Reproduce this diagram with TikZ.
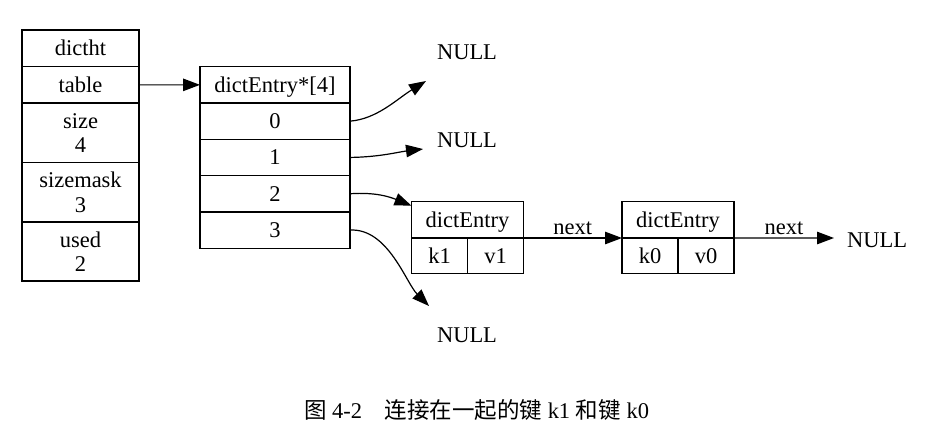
\documentclass[tikz,border=0pt]{standalone}
\usepackage{fontspec}
\setmainfont{Liberation Serif}
\newfontfamily\cjk{Noto Sans CJK SC}
\usepackage{tikz}
\usetikzlibrary{
  arrows.meta,
  positioning
}
\tikzset{
  lcell/.style={
    rectangle, draw=black, line width=1.2pt,
    inner sep=0pt, outer sep=0pt,
    minimum width=117pt, minimum height=36.3pt,
    text height=17pt, text depth=2pt
  },
  lcell2/.style={
    lcell, text height=, text depth=,
    minimum height=59.5pt, align=center
  },
  acell/.style={
    lcell, minimum width=150pt
  },
  ecell/.style={
    lcell, minimum width=112pt
  },
  hcell/.style={
    lcell, minimum width=56pt, minimum height=35.6pt
  },
  null/.style={
    inner sep=0pt
  },
  lbl/.style={
    inner sep=3pt
  },
  arr/.style={-{Triangle[length=17pt, width=12.5pt]}, line width=1.2pt, color=#1},
  arr/.default=black
}
\begin{document}
\begin{tikzpicture}[x=1pt, y=-1pt, font=\fontsize{22.5}{24.4}\selectfont]
    \useasboundingbox (0,0) rectangle (937,426);

    %% dictht
    \node[lcell, anchor=north west, minimum height=36.7pt] (ht) at (22,30) {dictht};
    \node[lcell, below=0pt of ht] (tbl) {table};
    \node[lcell2, below=0pt of tbl] (sz) {size\\4};
    \node[lcell2, below=0pt of sz] (msk) {sizemask\\3};
    \node[lcell2, below=0pt of msk, minimum height=59pt] (usd) {used\\2};

    %% dictEntry*[4]
    \node[acell, anchor=north west] (hdr) at (200,66.7) {dictEntry*[4]};
    \node[acell, below=0pt of hdr] (b0) {0};
    \node[acell, below=0pt of b0] (b1) {1};
    \node[acell, below=0pt of b1] (b2) {2};
    \node[acell, below=0pt of b2] (b3) {3};

    %% dictEntry k1 / k0
    \node[ecell, anchor=north west] (e1) at (411.5,201.7) {dictEntry};
    \node[hcell, anchor=north west] (k1) at (e1.south west) {k1};
    \node[hcell, right=0pt of k1] (v1) {v1};
    \node[ecell, anchor=north west] (e0) at (622,201.7) {dictEntry};
    \node[hcell, anchor=north west] (k0) at (e0.south west) {k0};
    \node[hcell, right=0pt of k0] (v0) {v0};

    %% NULL
    \node[null] (n0) at (467,52) {NULL};
    \node[null] (n1) at (467,140) {NULL};
    \node[null] (n3) at (467,335) {NULL};
    \node[null] (n4) at (877,240) {NULL};
    \coordinate (t0) at (426,81);
    \coordinate (t1) at (423,149);
    \coordinate (t3) at (429,306);
    \coordinate (t4) at (834,238);

    %% Pointers
    \draw[arr] (tbl.east) -- (hdr.west);
    \draw[arr] (b0.east) .. controls (377,119) and (397,99) .. (t0);
    \draw[arr] (b1.east) .. controls (380,157) and (398,152) .. (t1);
    \draw[arr] (b2.east) .. controls (376,192) and (390,197)
      .. ([yshift=-4pt]e1.north west);
    \draw[arr] (b3.east) .. controls (388,228) and (406,283) .. (t3);
    \draw[arr] (e1.south east) -- node[lbl, above] {next} (e0.south west);
    \draw[arr] (e0.south east) -- node[lbl, above] {next} (t4);

    %% Caption
    \node[font=\fontsize{22.5}{26}\selectfont] (cap) at (476.5,410)
      {{\cjk 图} 4-2\quad{\cjk 连接在一起的键} k1 {\cjk 和键} k0};

\end{tikzpicture}
\end{document}
